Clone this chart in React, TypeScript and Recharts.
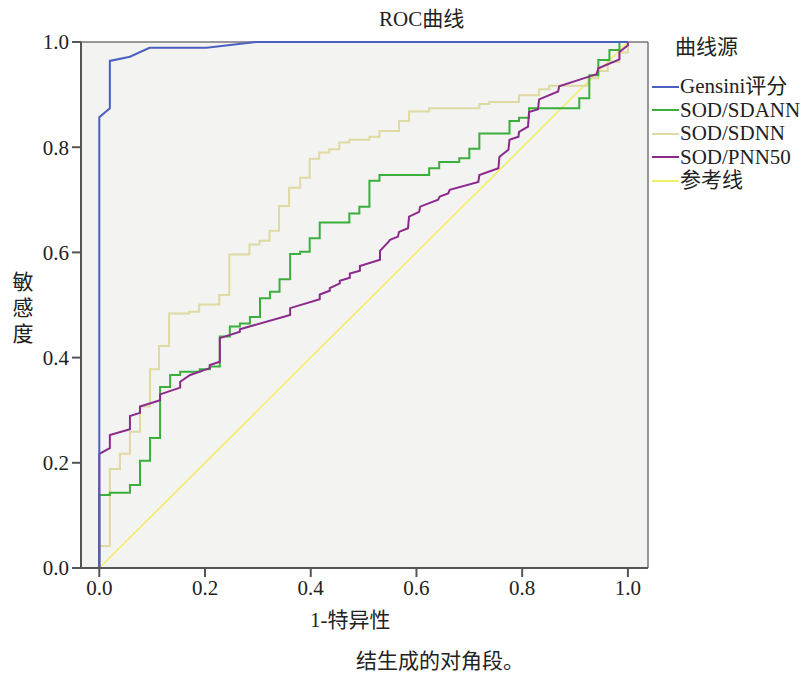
import { LineChart, Line, XAxis, YAxis, CartesianGrid, ReferenceLine } from 'recharts';

// 1 - specificity / sensitivity
const gensiniFpr = [0, 0, 0.02, 0.02, 0.058, 0.095, 0.203, 0.298, 1.0];
const gensiniTpr = [0, 0.857, 0.874, 0.964, 0.972, 0.989, 0.989, 1.0, 1.0];

const sdannFpr = [
    0, 0, 0.02, 0.02, 0.058, 0.058, 0.077, 0.077, 0.096, 0.096, 0.115, 0.115, 0.134, 0.134, 0.153, 0.153,
    0.19, 0.19, 0.209, 0.209, 0.228, 0.228, 0.247, 0.247, 0.266, 0.266, 0.285, 0.285, 0.304, 0.304, 0.323, 0.323,
    0.341, 0.341, 0.361, 0.361, 0.38, 0.38, 0.398, 0.398, 0.417, 0.417, 0.473, 0.473, 0.492, 0.492, 0.511, 0.511,
    0.53, 0.53, 0.624, 0.624, 0.643, 0.643, 0.681, 0.681, 0.7, 0.7, 0.719, 0.719, 0.776, 0.776, 0.794, 0.794,
    0.813, 0.813, 0.908, 0.908, 0.927, 0.927, 0.944, 0.944, 0.965, 0.965, 0.984, 0.984, 1
];
const sdannTpr = [
    0, 0.139, 0.139, 0.143, 0.143, 0.158, 0.158, 0.204, 0.204, 0.247, 0.247, 0.344, 0.344, 0.367, 0.367, 0.373,
    0.373, 0.378, 0.378, 0.383, 0.383, 0.44, 0.44, 0.459, 0.459, 0.465, 0.465, 0.477, 0.477, 0.513, 0.513, 0.525,
    0.525, 0.549, 0.549, 0.597, 0.597, 0.601, 0.601, 0.627, 0.627, 0.657, 0.657, 0.674, 0.674, 0.687, 0.687, 0.736,
    0.736, 0.747, 0.747, 0.76, 0.76, 0.772, 0.772, 0.779, 0.779, 0.797, 0.797, 0.826, 0.826, 0.85, 0.85, 0.856,
    0.856, 0.874, 0.874, 0.893, 0.893, 0.937, 0.937, 0.966, 0.966, 0.985, 0.985, 1, 1
];

const sdnnFpr = [
    0, 0, 0.02, 0.02, 0.039, 0.039, 0.058, 0.058, 0.077, 0.077, 0.096, 0.096, 0.113, 0.113, 0.132, 0.132,
    0.17, 0.17, 0.189, 0.189, 0.227, 0.227, 0.246, 0.246, 0.284, 0.284, 0.303, 0.303, 0.322, 0.322, 0.34, 0.34,
    0.359, 0.359, 0.38, 0.38, 0.398, 0.398, 0.416, 0.416, 0.435, 0.435, 0.454, 0.454, 0.473, 0.473, 0.511, 0.511,
    0.53, 0.53, 0.567, 0.567, 0.586, 0.586, 0.624, 0.624, 0.719, 0.719, 0.738, 0.738, 0.794, 0.794, 0.832, 0.832,
    0.851, 0.851, 0.925, 0.925, 0.944, 0.944, 0.962, 0.962, 0.983, 0.983, 1, 1
];
const sdnnTpr = [
    0, 0.042, 0.042, 0.188, 0.188, 0.217, 0.217, 0.259, 0.259, 0.307, 0.307, 0.378, 0.378, 0.422, 0.422, 0.484,
    0.484, 0.487, 0.487, 0.501, 0.501, 0.519, 0.519, 0.596, 0.596, 0.615, 0.615, 0.622, 0.622, 0.641, 0.641, 0.688,
    0.688, 0.723, 0.723, 0.742, 0.742, 0.778, 0.778, 0.79, 0.79, 0.796, 0.796, 0.809, 0.809, 0.814, 0.814, 0.82,
    0.82, 0.831, 0.831, 0.85, 0.85, 0.868, 0.868, 0.874, 0.874, 0.882, 0.882, 0.886, 0.886, 0.899, 0.899, 0.91,
    0.91, 0.917, 0.917, 0.931, 0.931, 0.945, 0.945, 0.962, 0.962, 0.98, 0.98, 1
];

const pnn50Fpr = [
    0, 0, 0.02, 0.02, 0.058, 0.058, 0.077, 0.077, 0.115, 0.115, 0.153, 0.153, 0.172, 0.209, 0.209, 0.228,
    0.228, 0.266, 0.266, 0.361, 0.361, 0.417, 0.417, 0.436, 0.436, 0.455, 0.455, 0.474, 0.474, 0.493, 0.493, 0.531,
    0.531, 0.547, 0.55, 0.565, 0.567, 0.584, 0.586, 0.605, 0.607, 0.641, 0.644, 0.66, 0.663, 0.717, 0.719, 0.755,
    0.757, 0.774, 0.776, 0.793, 0.794, 0.811, 0.813, 0.83, 0.832, 0.868, 0.87, 0.941, 0.944, 0.984, 0.984, 1, 1
];
const pnn50Tpr = [
    0, 0.217, 0.228, 0.253, 0.264, 0.289, 0.295, 0.307, 0.319, 0.33, 0.343, 0.354, 0.367, 0.38, 0.386, 0.392,
    0.437, 0.449, 0.454, 0.481, 0.494, 0.511, 0.52, 0.527, 0.532, 0.541, 0.546, 0.552, 0.56, 0.565, 0.574, 0.586,
    0.603, 0.62, 0.624, 0.63, 0.639, 0.646, 0.668, 0.677, 0.687, 0.7, 0.706, 0.712, 0.719, 0.734, 0.747, 0.76,
    0.782, 0.795, 0.814, 0.82, 0.829, 0.839, 0.867, 0.872, 0.891, 0.906, 0.916, 0.939, 0.95, 0.967, 0.981, 0.994, 1
];

const refFpr = [0, 1];
const refTpr = [0, 1];

const xTicks = [0, 0.2, 0.4, 0.6, 0.8, 1.0];
const yTicks = [0, 0.2, 0.4, 0.6, 0.8, 1.0];

const X_MIN = -0.0346;
const X_MAX = 1.038;

const toPoints = (fpr: number[], tpr: number[]) => fpr.map((x, i) => ({ x, y: tpr[i] }));

const series = [
    { name: 'Gensini评分', color: '#4b5fc0', data: toPoints(gensiniFpr, gensiniTpr) },
    { name: 'SOD/SDANN', color: '#3cae3c', data: toPoints(sdannFpr, sdannTpr) },
    { name: 'SOD/SDNN', color: '#dedaa2', data: toPoints(sdnnFpr, sdnnTpr) },
    { name: 'SOD/PNN50', color: '#8c2a8c', data: toPoints(pnn50Fpr, pnn50Tpr) },
    { name: '参考线', color: '#f3ee62', data: toPoints(refFpr, refTpr) }
];

const FONT = '"Liberation Serif", "Noto Sans CJK SC", serif';
const FS = 21;
const tickStyle = { fontSize: FS, fill: '#222', fontFamily: FONT };

const txt = (left: number, top: number, extra: any = {}) => ({
    position: 'absolute' as const,
    left,
    top,
    fontFamily: FONT,
    fontSize: FS,
    color: '#222',
    lineHeight: 1,
    whiteSpace: 'nowrap' as const,
    ...extra
});

export default function App() {
    // draw order: diagonal first, then khaki, green, purple, blue on top
    const drawOrder = [4, 2, 1, 3, 0];
    return (
        <div style={{ position: 'absolute', left: 0, top: 0, width: 801, height: 674, background: '#fff' }}>
            <LineChart width={801} height={674} margin={{ top: 42, right: 153, bottom: 66, left: 41 }}>
                <CartesianGrid fill="#f3f3f2" horizontal={false} vertical={false} />
                <XAxis
                    type="number"
                    dataKey="x"
                    domain={[X_MIN, X_MAX]}
                    ticks={xTicks}
                    tickFormatter={(v: number) => v.toFixed(1)}
                    allowDataOverflow
                    height={40}
                    tickSize={9}
                    tickMargin={3}
                    tick={tickStyle}
                    axisLine={{ stroke: '#555', strokeWidth: 2 }}
                    tickLine={{ stroke: '#555', strokeWidth: 2 }}
                />
                <YAxis
                    type="number"
                    dataKey="y"
                    domain={[0, 1]}
                    ticks={yTicks}
                    tickFormatter={(v: number) => v.toFixed(1)}
                    width={40}
                    tickSize={9}
                    tickMargin={3}
                    tick={tickStyle}
                    axisLine={{ stroke: '#555', strokeWidth: 2 }}
                    tickLine={{ stroke: '#555', strokeWidth: 2 }}
                />
                <ReferenceLine y={1} stroke="#777" strokeWidth={1.5} />
                <ReferenceLine x={X_MAX} stroke="#777" strokeWidth={1.5} />
                {drawOrder.map((i) => (
                    <Line
                        key={series[i].name}
                        data={series[i].data}
                        dataKey="y"
                        name={series[i].name}
                        type="linear"
                        stroke={series[i].color}
                        strokeWidth={i === 4 ? 1.5 : 2}
                        dot={false}
                        activeDot={false}
                        isAnimationActive={false}
                    />
                ))}
            </LineChart>

            <div style={txt(379, 9)}>ROC曲线</div>

            <div style={txt(675, 37)}>曲线源</div>
            {series.map((s, i) => (
                <div key={s.name} style={txt(652, 76 + i * 23.5, { display: 'flex', alignItems: 'center' })}>
                    <span style={{ display: 'inline-block', width: 27, height: 2, background: s.color, marginRight: 1 }} />
                    <span>{s.name}</span>
                </div>
            ))}

            <div style={txt(12, 269, { width: 22, whiteSpace: 'normal', lineHeight: '26px', textAlign: 'center' })}>
                敏<br />感<br />度
            </div>

            <div style={txt(310, 610)}>1-特异性</div>
            <div style={txt(356, 651)}>结生成的对角段。</div>
        </div>
    );
}
